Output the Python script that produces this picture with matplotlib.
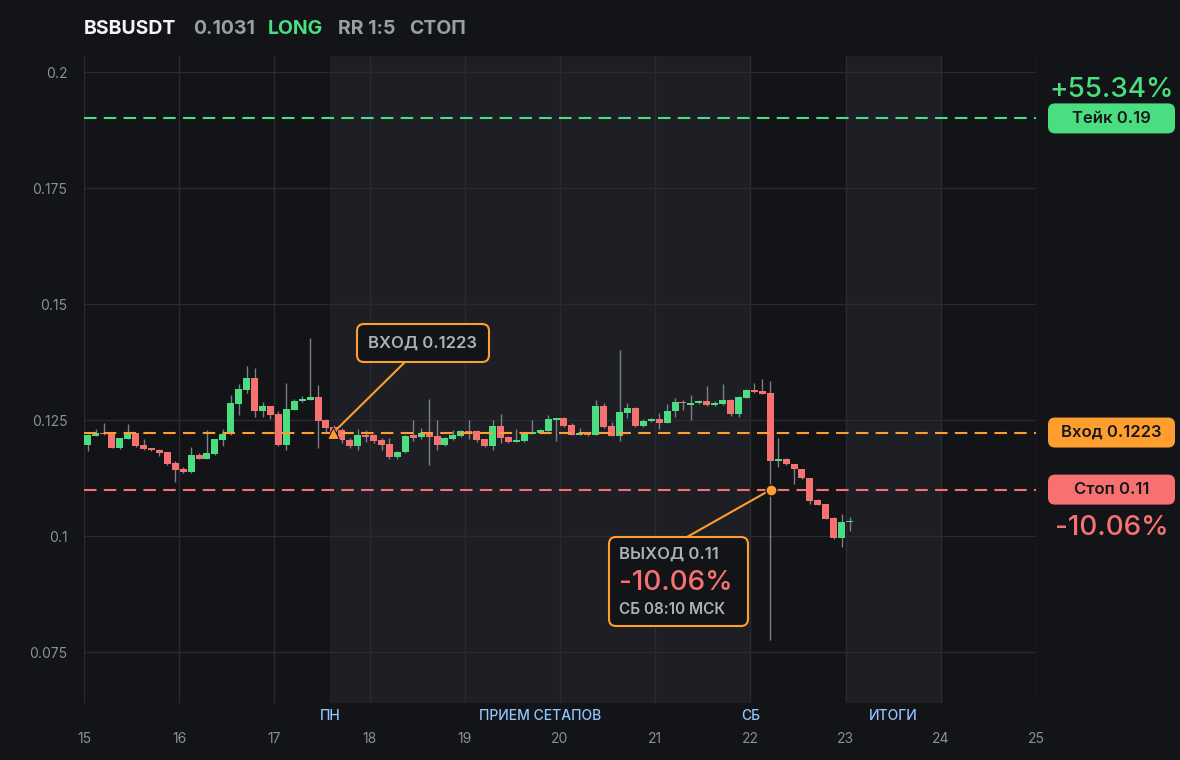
import numpy as np
import matplotlib.pyplot as plt
from matplotlib.patches import FancyBboxPatch
import matplotlib.transforms as mtransforms

plt.rcParams['font.family'] = ['Inter', 'DejaVu Sans']

# header
symbol = 'BSBUSDT'
last_price = '0.1031'
side = 'LONG'
rr = 'RR 1:5'
outcome = 'СТОП'

# trade levels
take = 0.19
entry = 0.1223
stop = 0.11
take_pct = '+55.34%'
stop_pct = '-10.06%'
entry_day = 17.62
exit_day = 22.215
exit_label = 'СБ 08:10 МСК'

# 2h candles starting on day 15
start_day = 15
opens = [0.1196, 0.1216, 0.1223, 0.1220, 0.1190, 0.1210, 0.1221, 0.1196, 0.1188, 0.1186,
         0.1181, 0.1157, 0.1144, 0.1137, 0.1175, 0.1167, 0.1176, 0.1207, 0.1220, 0.1285,
         0.1315, 0.1341, 0.1270, 0.1280, 0.1264, 0.1197, 0.1272, 0.1290, 0.1294, 0.1300,
         0.1250, 0.1235, 0.1228, 0.1207, 0.1193, 0.1218, 0.1218, 0.1207, 0.1198, 0.1171,
         0.1180, 0.1217, 0.1214, 0.1221, 0.1216, 0.1196, 0.1210, 0.1216, 0.1226, 0.1226,
         0.1208, 0.1194, 0.1237, 0.1213, 0.1203, 0.1205, 0.1220, 0.1223, 0.1227, 0.1250,
         0.1254, 0.1239, 0.1218, 0.1223, 0.1218, 0.1280, 0.1237, 0.1216, 0.1266, 0.1276,
         0.1237, 0.1248, 0.1252, 0.1244, 0.1269, 0.1289, 0.1283, 0.1286, 0.1291, 0.1283,
         0.1285, 0.1293, 0.1263, 0.1298, 0.1315, 0.1312, 0.1308, 0.1162, 0.1167, 0.1155,
         0.1144, 0.1124, 0.1078, 0.1069, 0.1039, 0.0996, 0.1030]
highs = [0.1220, 0.1231, 0.1244, 0.1222, 0.1212, 0.1241, 0.1222, 0.1209, 0.1190, 0.1187,
         0.1182, 0.1162, 0.1148, 0.1191, 0.1179, 0.1228, 0.1210, 0.1230, 0.1304, 0.1328,
         0.1366, 0.1362, 0.1288, 0.1281, 0.1269, 0.1330, 0.1295, 0.1302, 0.1427, 0.1325,
         0.1252, 0.1240, 0.1232, 0.1211, 0.1230, 0.1228, 0.1220, 0.1212, 0.1211, 0.1183,
         0.1218, 0.1251, 0.1232, 0.1295, 0.1250, 0.1213, 0.1228, 0.1228, 0.1249, 0.1228,
         0.1210, 0.1249, 0.1263, 0.1215, 0.1230, 0.1222, 0.1249, 0.1230, 0.1261, 0.1255,
         0.1257, 0.1243, 0.1232, 0.1224, 0.1293, 0.1286, 0.1246, 0.1401, 0.1287, 0.1277,
         0.1253, 0.1254, 0.1266, 0.1284, 0.1297, 0.1293, 0.1304, 0.1293, 0.1323, 0.1290,
         0.1328, 0.1295, 0.1301, 0.1317, 0.1329, 0.1338, 0.1333, 0.1211, 0.1168, 0.1156,
         0.1145, 0.1126, 0.1079, 0.1070, 0.1040, 0.1047, 0.1042]
lows = [0.1184, 0.1215, 0.1218, 0.1189, 0.1187, 0.1209, 0.1191, 0.1185, 0.1184, 0.1173,
        0.1154, 0.1117, 0.1136, 0.1136, 0.1166, 0.1166, 0.1175, 0.1193, 0.1218, 0.1261,
        0.1309, 0.1257, 0.1257, 0.1252, 0.1193, 0.1185, 0.1271, 0.1289, 0.1293, 0.1190,
        0.1225, 0.1220, 0.1200, 0.1189, 0.1185, 0.1203, 0.1200, 0.1185, 0.1165, 0.1167,
        0.1178, 0.1204, 0.1209, 0.1153, 0.1185, 0.1193, 0.1206, 0.1214, 0.1209, 0.1203,
        0.1192, 0.1185, 0.1200, 0.1201, 0.1202, 0.1203, 0.1219, 0.1221, 0.1226, 0.1205,
        0.1236, 0.1217, 0.1217, 0.1216, 0.1217, 0.1232, 0.1215, 0.1205, 0.1254, 0.1235,
        0.1235, 0.1246, 0.1230, 0.1243, 0.1257, 0.1272, 0.1249, 0.1284, 0.1281, 0.1281,
        0.1282, 0.1258, 0.1257, 0.1297, 0.1308, 0.1305, 0.0776, 0.1149, 0.1153, 0.1112,
        0.1122, 0.1070, 0.1066, 0.1036, 0.0993, 0.0976, 0.1011]
closes = [0.1218, 0.1222, 0.1220, 0.1190, 0.1211, 0.1221, 0.1195, 0.1188, 0.1186, 0.1179,
          0.1156, 0.1143, 0.1137, 0.1175, 0.1167, 0.1179, 0.1209, 0.1220, 0.1287, 0.1317,
          0.1341, 0.1270, 0.1280, 0.1261, 0.1197, 0.1274, 0.1291, 0.1295, 0.1300, 0.1248,
          0.1233, 0.1225, 0.1207, 0.1193, 0.1218, 0.1214, 0.1205, 0.1196, 0.1171, 0.1181,
          0.1216, 0.1212, 0.1221, 0.1214, 0.1196, 0.1211, 0.1217, 0.1226, 0.1222, 0.1207,
          0.1194, 0.1237, 0.1212, 0.1203, 0.1207, 0.1220, 0.1224, 0.1228, 0.1252, 0.1254,
          0.1238, 0.1218, 0.1223, 0.1218, 0.1280, 0.1234, 0.1216, 0.1268, 0.1276, 0.1237,
          0.1248, 0.1252, 0.1244, 0.1269, 0.1289, 0.1286, 0.1287, 0.1291, 0.1283, 0.1287,
          0.1293, 0.1263, 0.1300, 0.1315, 0.1310, 0.1307, 0.1162, 0.1167, 0.1155, 0.1144,
          0.1124, 0.1076, 0.1067, 0.1037, 0.0996, 0.1030, 0.1031]

days = list(range(15, 26))
yticks = [0.075, 0.1, 0.125, 0.15, 0.175, 0.2]
ytick_labels = ['0.075', '0.1', '0.125', '0.15', '0.175', '0.2']
bands = [(17.583, 22.0), (23.0, 24.0)]
band_labels = [('ПН', 17.583), ('ПРИЕМ СЕТАПОВ', 19.79), ('СБ', 22.0), ('ИТОГИ', 23.5)]

BG = '#131418'
BAND = '#1e1f24'
GRID = '#2a2b31'
GREEN = '#4ade80'
RED = '#f87171'
ORANGE = '#fd9e2e'
GRAY = '#9a9ea6'
WICK = '#7c7f86'
BLUE = '#93c5fd'

fig = plt.figure(figsize=(11.8, 7.6), dpi=100, facecolor=BG)
ax = fig.add_axes([84 / 1180, 1 - 703 / 760, 952 / 1180, 647 / 760])
ax.set_facecolor(BG)
ax.set_xlim(15, 25)
ax.set_ylim(0.06401, 0.20345)
for s in ax.spines.values():
    s.set_visible(False)

for b0, b1 in bands:
    ax.axvspan(b0, b1, color=BAND, zorder=0, lw=0)

ax.set_xticks(days)
ax.set_yticks(yticks)
ax.set_yticklabels(ytick_labels)
ax.grid(True, color=GRID, lw=1, zorder=0.5)
ax.set_axisbelow(True)
ax.tick_params(axis='both', length=0, colors='#8b8f98', labelsize=10)
ax.tick_params(axis='x', pad=21)
ax.tick_params(axis='y', pad=12)

# candles
o = np.array(opens)
h = np.array(highs)
l = np.array(lows)
c = np.array(closes)
x = start_day + (np.arange(len(o)) + 0.5) / 12
up = c >= o
ax.vlines(x, l, h, color=WICK, lw=1, zorder=2)
body = np.maximum(np.abs(c - o), 0.0003)
ax.bar(x, body, bottom=np.minimum(o, c), width=0.88 / 12,
       color=np.where(up, GREEN, RED), zorder=3, lw=0)

# levels
for lvl, col in [(take, GREEN), (entry, ORANGE), (stop, RED)]:
    ax.axhline(lvl, color=col, lw=1.5, dashes=(6, 3.5), zorder=4)

# session labels below axes
btr = mtransforms.blended_transform_factory(ax.transData, ax.transAxes)
for txt, xp in band_labels:
    ax.text(xp, -0.0205, txt, transform=btr, ha='center', va='center',
            color=BLUE, fontsize=10, fontweight='medium')

# x units per pixel for box building
px_x = 10 / 952
px_y = (0.20345 - 0.06401) / 647


def rbox(x0, y0, x1, y1, fc, ec, lw=0, r=7):
    p = FancyBboxPatch((x0, y0), x1 - x0, y1 - y0,
                       boxstyle='round,pad=0,rounding_size=%f' % (r * px_x),
                       mutation_aspect=px_y / px_x, fc=fc, ec=ec, lw=lw,
                       clip_on=False, zorder=6)
    ax.add_patch(p)


# entry marker and label
ax.plot([entry_day], [entry], marker='^', ms=9, color=ORANGE, mec=BG, mew=0.8, zorder=7)
ebx0, ebx1 = 15 + 273 * px_x, 15 + 405 * px_x
eby0, eby1 = 0.1 + (536 - 362) * px_y, 0.1 + (536 - 324) * px_y
ax.plot([entry_day, 15 + 321 * px_x], [entry, eby0], color=ORANGE, lw=1.5, zorder=5)
rbox(ebx0, eby0, ebx1, eby1, BG, ORANGE, lw=1.5)
ax.text((ebx0 + ebx1) / 2, (eby0 + eby1) / 2, 'ВХОД %.4f' % entry, ha='center',
        va='center', color='#aeb1b8', fontsize=12, fontweight='semibold', zorder=8)

# exit marker and label
xbx0, xbx1 = 15 + 525 * px_x, 15 + 664 * px_x
xby0, xby1 = 0.1 + (536 - 626) * px_y, 0.1 + (536 - 537) * px_y
ax.plot([exit_day, 15 + 603 * px_x], [stop, xby1], color=ORANGE, lw=1.5, zorder=5)
ax.plot([exit_day], [stop], marker='o', ms=8, color=ORANGE, mec=BG, mew=1, zorder=7)
rbox(xbx0, xby0, xbx1, xby1, BG, ORANGE, lw=1.5)
tx = 15 + 535 * px_x
ax.text(tx, 0.1 + (536 - 554) * px_y, 'ВЫХОД %.2f' % stop, ha='left', va='center',
        color='#aeb1b8', fontsize=12, fontweight='semibold', zorder=8)
ax.text(tx, 0.1 + (536 - 583) * px_y, stop_pct, ha='left', va='center',
        color=RED, fontsize=20, fontweight='medium', zorder=8)
ax.text(tx, 0.1 + (536 - 609) * px_y, exit_label, ha='left', va='center',
        color='#aeb1b8', fontsize=11, fontweight='semibold', zorder=8)

# right side price tags
tag_x0, tag_x1 = 15 + 964 * px_x, 15 + 1091 * px_x
tag_cx = (tag_x0 + tag_x1) / 2
for lvl, col, lab in [(take, GREEN, 'Тейк %.2f' % take),
                      (entry, ORANGE, 'Вход %.4f' % entry),
                      (stop, RED, 'Стоп %.2f' % stop)]:
    rbox(tag_x0, lvl - 15 * px_y, tag_x1, lvl + 15 * px_y, col, col)
    ax.text(tag_cx, lvl, lab, ha='center', va='center', color='#16171b',
            fontsize=12, fontweight='semibold', clip_on=False, zorder=8)
ax.text(tag_cx, take + 28 * px_y, take_pct, ha='center', va='center', color=GREEN,
        fontsize=20, fontweight='medium', clip_on=False)
ax.text(tag_cx, stop - 38 * px_y, stop_pct, ha='center', va='center', color=RED,
        fontsize=20, fontweight='medium', clip_on=False)

# header
hy = 1 - 29 / 760
for txt, xp, col in [(symbol, 84, '#f3f4f6'), (last_price, 193, GRAY), (side, 268, GREEN),
                     (rr, 338, GRAY), (outcome, 409, GRAY)]:
    fig.text(xp / 1180, hy, txt, ha='left', va='center', color=col,
             fontsize=14, fontweight='bold')

fig.savefig('out.png', dpi=100, facecolor=BG)
